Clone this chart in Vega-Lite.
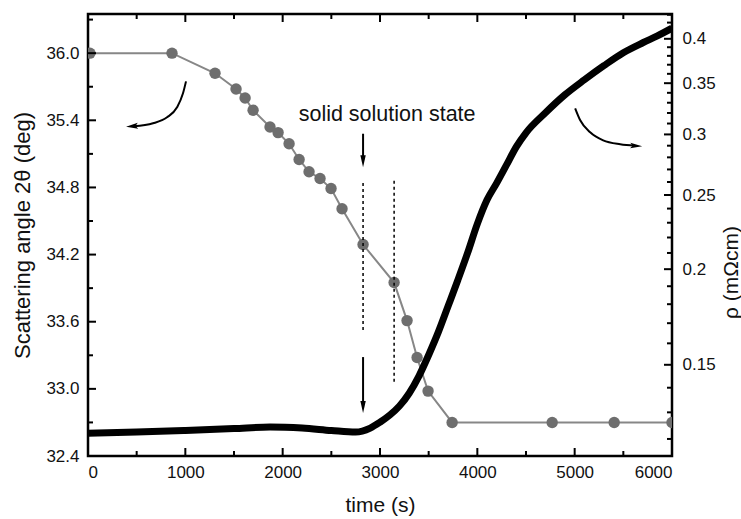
{
  "$schema": "https://vega.github.io/schema/vega-lite/v6.json",
  "width": 584,
  "height": 442,
  "autosize": "none",
  "padding": {"left": 88, "top": 14, "right": 69, "bottom": 63},
  "background": "#ffffff",
  "config": {
    "font": "Liberation Sans",
    "view": {"stroke": "#000000", "strokeWidth": 2.5},
    "axis": {
      "domain": false,
      "ticks": false,
      "labelFont": "Liberation Sans",
      "labelFontSize": 17,
      "labelColor": "#111111",
      "titleFont": "Liberation Sans",
      "titleFontSize": 21,
      "titleFontWeight": "normal",
      "titleColor": "#111111",
      "grid": false
    }
  },
  "datasets": {
    "angle": [
      {"t": 20, "a": 36.0}, {"t": 863, "a": 36.0}, {"t": 1305, "a": 35.82},
      {"t": 1521, "a": 35.68}, {"t": 1614, "a": 35.6}, {"t": 1696, "a": 35.49},
      {"t": 1870, "a": 35.34}, {"t": 1953, "a": 35.29}, {"t": 2066, "a": 35.19},
      {"t": 2169, "a": 35.05}, {"t": 2271, "a": 34.94}, {"t": 2384, "a": 34.88},
      {"t": 2497, "a": 34.79}, {"t": 2610, "a": 34.61}, {"t": 2826, "a": 34.29},
      {"t": 3145, "a": 33.95}, {"t": 3278, "a": 33.61}, {"t": 3381, "a": 33.28},
      {"t": 3494, "a": 32.98}, {"t": 3741, "a": 32.7}, {"t": 4769, "a": 32.7},
      {"t": 5406, "a": 32.7}, {"t": 6000, "a": 32.7}
    ],
    "rho": [
      {"t": 0, "r": 0.1221}, {"t": 500, "r": 0.1225}, {"t": 1000, "r": 0.1231},
      {"t": 1500, "r": 0.1238}, {"t": 1870, "r": 0.1244}, {"t": 2200, "r": 0.124},
      {"t": 2500, "r": 0.1231}, {"t": 2750, "r": 0.1225}, {"t": 2900, "r": 0.124},
      {"t": 3000, "r": 0.1262}, {"t": 3100, "r": 0.1289}, {"t": 3200, "r": 0.1325},
      {"t": 3300, "r": 0.1377}, {"t": 3400, "r": 0.145}, {"t": 3500, "r": 0.1545},
      {"t": 3600, "r": 0.1656}, {"t": 3700, "r": 0.179}, {"t": 3800, "r": 0.1936},
      {"t": 3900, "r": 0.21}, {"t": 4000, "r": 0.2292}, {"t": 4100, "r": 0.2464},
      {"t": 4200, "r": 0.2593}, {"t": 4300, "r": 0.2737}, {"t": 4400, "r": 0.289},
      {"t": 4500, "r": 0.3015}, {"t": 4700, "r": 0.3202}, {"t": 4900, "r": 0.338},
      {"t": 5100, "r": 0.3536}, {"t": 5300, "r": 0.3689}, {"t": 5500, "r": 0.3836},
      {"t": 5700, "r": 0.3953}, {"t": 5850, "r": 0.4035}, {"t": 6000, "r": 0.4130}
    ],
    "dashes": [
      {"t": 2826, "a1": 34.84, "a2": 33.525},
      {"t": 3145, "a1": 34.86, "a2": 33.05}
    ],
    "shafts": [
      {"g": "L", "o": 1, "t": 1007, "a": 35.748}, {"g": "L", "o": 2, "t": 976, "a": 35.641},
      {"g": "L", "o": 3, "t": 915, "a": 35.516}, {"g": "L", "o": 4, "t": 812, "a": 35.427},
      {"g": "L", "o": 5, "t": 668, "a": 35.373}, {"g": "L", "o": 6, "t": 470, "a": 35.346},
      {"g": "R", "o": 1, "t": 5005, "a": 35.507}, {"g": "R", "o": 2, "t": 5057, "a": 35.4},
      {"g": "R", "o": 3, "t": 5159, "a": 35.293}, {"g": "R", "o": 4, "t": 5293, "a": 35.221},
      {"g": "R", "o": 5, "t": 5468, "a": 35.186}, {"g": "R", "o": 6, "t": 5620, "a": 35.173},
      {"g": "D1", "o": 1, "t": 2826, "a": 35.28}, {"g": "D1", "o": 2, "t": 2826, "a": 35.04},
      {"g": "D2", "o": 1, "t": 2826, "a": 33.284}, {"g": "D2", "o": 2, "t": 2826, "a": 32.84}
    ],
    "heads": [
      {"dir": "left", "t": 452, "a": 35.346},
      {"dir": "right", "t": 5632, "a": 35.172},
      {"dir": "down", "t": 2826, "a": 35.034},
      {"dir": "down", "t": 2826, "a": 32.8375}
    ],
    "notes": [
      {"t": 3073, "a": 35.445, "label": "solid solution state"}
    ],
    "xticks": [
      {"t": 0, "k": "major"}, {"t": 500, "k": "minor"}, {"t": 1000, "k": "major"},
      {"t": 1500, "k": "minor"}, {"t": 2000, "k": "major"}, {"t": 2500, "k": "minor"},
      {"t": 3000, "k": "major"}, {"t": 3500, "k": "minor"}, {"t": 4000, "k": "major"},
      {"t": 4500, "k": "minor"}, {"t": 5000, "k": "major"}, {"t": 5500, "k": "minor"},
      {"t": 6000, "k": "major"}
    ],
    "yticks": [
      {"a": 32.4, "k": "major"}, {"a": 32.7, "k": "minor"}, {"a": 33.0, "k": "major"},
      {"a": 33.3, "k": "minor"}, {"a": 33.6, "k": "major"}, {"a": 33.9, "k": "minor"},
      {"a": 34.2, "k": "major"}, {"a": 34.5, "k": "minor"}, {"a": 34.8, "k": "major"},
      {"a": 35.1, "k": "minor"}, {"a": 35.4, "k": "major"}, {"a": 35.7, "k": "minor"},
      {"a": 36.0, "k": "major"}, {"a": 36.3, "k": "minor"}
    ],
    "rticks": [
      {"r": 0.12, "k": "minor"}, {"r": 0.13, "k": "minor"}, {"r": 0.14, "k": "minor"},
      {"r": 0.15, "k": "major"}, {"r": 0.16, "k": "minor"}, {"r": 0.17, "k": "minor"},
      {"r": 0.18, "k": "minor"}, {"r": 0.19, "k": "minor"}, {"r": 0.2, "k": "major"},
      {"r": 0.21, "k": "minor"}, {"r": 0.22, "k": "minor"}, {"r": 0.23, "k": "minor"},
      {"r": 0.24, "k": "minor"}, {"r": 0.25, "k": "major"}, {"r": 0.26, "k": "minor"},
      {"r": 0.27, "k": "minor"}, {"r": 0.28, "k": "minor"}, {"r": 0.29, "k": "minor"},
      {"r": 0.3, "k": "major"}, {"r": 0.31, "k": "minor"}, {"r": 0.32, "k": "minor"},
      {"r": 0.33, "k": "minor"}, {"r": 0.34, "k": "minor"}, {"r": 0.35, "k": "major"},
      {"r": 0.36, "k": "minor"}, {"r": 0.37, "k": "minor"}, {"r": 0.38, "k": "minor"},
      {"r": 0.39, "k": "minor"}, {"r": 0.4, "k": "major"}, {"r": 0.41, "k": "minor"},
      {"r": 0.42, "k": "minor"}, {"r": 0.43, "k": "minor"}
    ]
  },
  "layer": [
    {
      "resolve": {"axis": {"x": "independent", "y": "independent"}},
      "layer": [
        {
          "data": {"name": "angle"},
          "mark": {"type": "line", "color": "#878787", "strokeWidth": 2, "clip": true},
          "encoding": {
            "x": {
              "field": "t", "type": "quantitative",
              "scale": {"domain": [0, 6000], "nice": false},
              "axis": {
                "orient": "bottom",
                "title": "time (s)",
                "values": [0, 1000, 2000, 3000, 4000, 5000, 6000],
                "format": "d",
                "labelPadding": 8,
                "titleY": 49,
                "titleBaseline": "middle"
              }
            },
            "y": {
              "field": "a", "type": "quantitative",
              "scale": {"domain": [32.4, 36.35], "nice": false, "zero": false},
              "axis": {
                "orient": "left",
                "title": "Scattering angle 2θ (deg)",
                "values": [32.4, 33.0, 33.6, 34.2, 34.8, 35.4, 36.0],
                "format": ".1f",
                "labelPadding": 9,
                "titleFontSize": 22,
                "titleX": -66,
                "titleBaseline": "middle"
              }
            }
          }
        },
        {
          "data": {"name": "angle"},
          "mark": {"type": "point", "filled": true, "color": "#6e6e6e", "opacity": 1, "size": 130, "clip": true},
          "encoding": {
            "x": {"field": "t", "type": "quantitative", "axis": null},
            "y": {"field": "a", "type": "quantitative", "axis": null}
          }
        },
        {
          "data": {"name": "dashes"},
          "mark": {"type": "rule", "color": "#000000", "strokeWidth": 1.5, "strokeDash": [3, 3]},
          "encoding": {
            "x": {"field": "t", "type": "quantitative", "axis": null},
            "y": {"field": "a1", "type": "quantitative", "axis": null},
            "y2": {"field": "a2"}
          }
        },
        {
          "data": {"name": "shafts"},
          "mark": {"type": "line", "color": "#000000", "strokeWidth": 2, "interpolate": "monotone"},
          "encoding": {
            "x": {"field": "t", "type": "quantitative", "axis": null},
            "y": {"field": "a", "type": "quantitative", "axis": null},
            "detail": {"field": "g"},
            "order": {"field": "o"}
          }
        },
        {
          "data": {"name": "heads"},
          "transform": [{"filter": "datum.dir == 'down'"}],
          "mark": {"type": "point", "filled": true, "color": "#000000", "opacity": 1, "size": 144, "angle": 90, "shape": "M -1 -0.45 L 1 0 L -1 0.45 Z"},
          "encoding": {
            "x": {"field": "t", "type": "quantitative", "axis": null},
            "y": {"field": "a", "type": "quantitative", "axis": null}
          }
        },
        {
          "data": {"name": "heads"},
          "transform": [{"filter": "datum.dir == 'left'"}],
          "mark": {"type": "point", "filled": true, "color": "#000000", "opacity": 1, "size": 144, "angle": 175, "shape": "M -1 -0.5 L 1 0 L -1 0.5 L -0.6 0 Z"},
          "encoding": {
            "x": {"field": "t", "type": "quantitative", "axis": null},
            "y": {"field": "a", "type": "quantitative", "axis": null}
          }
        },
        {
          "data": {"name": "heads"},
          "transform": [{"filter": "datum.dir == 'right'"}],
          "mark": {"type": "point", "filled": true, "color": "#000000", "opacity": 1, "size": 144, "angle": 3, "shape": "M -1 -0.45 L 1 0 L -1 0.45 L -0.6 0 Z"},
          "encoding": {
            "x": {"field": "t", "type": "quantitative", "axis": null},
            "y": {"field": "a", "type": "quantitative", "axis": null}
          }
        },
        {
          "data": {"name": "notes"},
          "mark": {"type": "text", "font": "Liberation Sans", "fontSize": 21.5, "color": "#111111", "align": "center", "baseline": "middle"},
          "encoding": {
            "x": {"field": "t", "type": "quantitative", "axis": null},
            "y": {"field": "a", "type": "quantitative", "axis": null},
            "text": {"field": "label"}
          }
        },
        {
          "data": {"name": "xticks"},
          "transform": [{"filter": "datum.k == 'major'"}],
          "mark": {"type": "tick", "orient": "vertical", "size": 8, "thickness": 2, "color": "#000000", "opacity": 1, "yOffset": -4},
          "encoding": {
            "x": {"field": "t", "type": "quantitative", "axis": null},
            "y": {"datum": 32.4, "type": "quantitative", "axis": null}
          }
        },
        {
          "data": {"name": "xticks"},
          "transform": [{"filter": "datum.k == 'minor'"}],
          "mark": {"type": "tick", "orient": "vertical", "size": 5, "thickness": 2, "color": "#000000", "opacity": 1, "yOffset": -2.5},
          "encoding": {
            "x": {"field": "t", "type": "quantitative", "axis": null},
            "y": {"datum": 32.4, "type": "quantitative", "axis": null}
          }
        },
        {
          "data": {"name": "xticks"},
          "transform": [{"filter": "datum.k == 'major'"}],
          "mark": {"type": "tick", "orient": "vertical", "size": 8, "thickness": 2, "color": "#000000", "opacity": 1, "yOffset": 4},
          "encoding": {
            "x": {"field": "t", "type": "quantitative", "axis": null},
            "y": {"datum": 36.35, "type": "quantitative", "axis": null}
          }
        },
        {
          "data": {"name": "xticks"},
          "transform": [{"filter": "datum.k == 'minor'"}],
          "mark": {"type": "tick", "orient": "vertical", "size": 5, "thickness": 2, "color": "#000000", "opacity": 1, "yOffset": 2.5},
          "encoding": {
            "x": {"field": "t", "type": "quantitative", "axis": null},
            "y": {"datum": 36.35, "type": "quantitative", "axis": null}
          }
        },
        {
          "data": {"name": "yticks"},
          "transform": [{"filter": "datum.k == 'major'"}],
          "mark": {"type": "tick", "orient": "horizontal", "size": 8, "thickness": 2, "color": "#000000", "opacity": 1, "xOffset": 4},
          "encoding": {
            "x": {"datum": 0, "type": "quantitative", "axis": null},
            "y": {"field": "a", "type": "quantitative", "axis": null}
          }
        },
        {
          "data": {"name": "yticks"},
          "transform": [{"filter": "datum.k == 'minor'"}],
          "mark": {"type": "tick", "orient": "horizontal", "size": 5, "thickness": 2, "color": "#000000", "opacity": 1, "xOffset": 2.5},
          "encoding": {
            "x": {"datum": 0, "type": "quantitative", "axis": null},
            "y": {"field": "a", "type": "quantitative", "axis": null}
          }
        }
      ]
    },
    {
      "resolve": {"axis": {"x": "independent", "y": "independent"}},
      "layer": [
        {
          "data": {"name": "rho"},
          "mark": {"type": "line", "color": "#000000", "strokeWidth": 7, "clip": true, "interpolate": "monotone"},
          "encoding": {
            "x": {"field": "t", "type": "quantitative", "axis": null},
            "y": {
              "field": "r", "type": "quantitative",
              "scale": {"type": "log", "domain": [0.114, 0.431], "nice": false, "zero": false},
              "axis": {
                "orient": "right",
                "title": "ρ (mΩcm)",
                "values": [0.15, 0.2, 0.25, 0.3, 0.35, 0.4],
                "format": "~g",
                "labelPadding": 10,
                "titleAngle": 270,
                "titleX": 59,
                "titleY": 258,
                "titleBaseline": "middle",
                "titleAlign": "center"
              }
            }
          }
        },
        {
          "data": {"name": "rticks"},
          "transform": [{"filter": "datum.k == 'major'"}],
          "mark": {"type": "tick", "orient": "horizontal", "size": 8, "thickness": 2, "color": "#000000", "opacity": 1, "xOffset": -4},
          "encoding": {
            "x": {"datum": 6000, "type": "quantitative", "axis": null},
            "y": {"field": "r", "type": "quantitative", "axis": null}
          }
        },
        {
          "data": {"name": "rticks"},
          "transform": [{"filter": "datum.k == 'minor'"}],
          "mark": {"type": "tick", "orient": "horizontal", "size": 5, "thickness": 2, "color": "#000000", "opacity": 1, "xOffset": -2.5},
          "encoding": {
            "x": {"datum": 6000, "type": "quantitative", "axis": null},
            "y": {"field": "r", "type": "quantitative", "axis": null}
          }
        }
      ]
    }
  ],
  "resolve": {"scale": {"y": "independent"}}
}
